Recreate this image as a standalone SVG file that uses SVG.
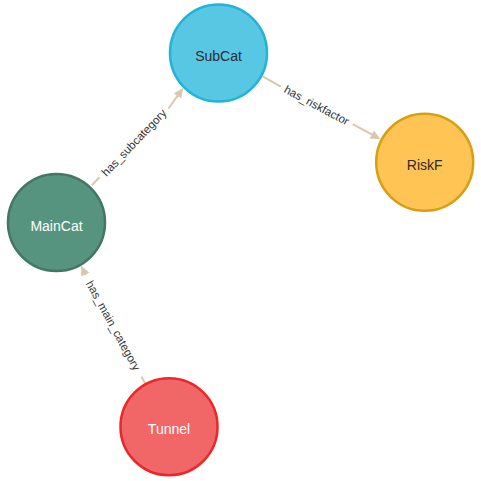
<svg xmlns="http://www.w3.org/2000/svg" width="481" height="481" viewBox="0 0 481 481">
<defs>
<style>
.node circle{stroke-width:2.5}
.node text{font-family:"Liberation Sans",Arial,sans-serif;font-size:14px;text-anchor:middle}
.dark{fill:#2A2C34}
.light{fill:#FFFFFF}
.edge line{stroke:#D9C8AE;stroke-width:2;fill:none}
.elabel{font-family:"Liberation Sans",Arial,sans-serif;font-size:11.5px;fill:#333333;text-anchor:middle}
</style>
<marker id="arrow" viewBox="0 -5 10 10" refX="1" refY="0" markerWidth="10" markerHeight="10" markerUnits="userSpaceOnUse" orient="auto">
<path d="M0,-4.5 L10,0 L0,4.5 z" fill="#D9C8AE"/>
</marker>
</defs>
<rect width="481" height="481" fill="#FFFFFF"/>
<g id="connectors">
<g class="edge" id="e-has_subcategory">
<line x1="91.8" y1="185.2" x2="99.5" y2="177.2"/>
<line x1="168.5" y1="108.5" x2="178.0" y2="95.2" marker-end="url(#arrow)"/>
<text class="elabel" transform="translate(134,142.5) rotate(-46.2)" dy="0.35em">has_subcategory</text>
</g>
<g class="edge" id="e-has_riskfactor">
<line x1="262.7" y1="76.4" x2="280.7" y2="86.7"/>
<line x1="352.7" y1="124.2" x2="372.6" y2="134.9" marker-end="url(#arrow)"/>
<text class="elabel" transform="translate(316.7,105.3) rotate(27.9)" dy="0.35em">has_riskfactor</text>
</g>
<g class="edge" id="e-has_main_category">
<line x1="144.9" y1="382.9" x2="141.5" y2="376.5"/>
<line x1="85.5" y1="275" x2="84.9" y2="273.7" marker-end="url(#arrow)"/>
<text class="elabel" transform="translate(113.3,325.5) rotate(61.2)" dy="0.35em">has_main_category</text>
</g>
</g>
<g class="node" id="SubCat">
<circle cx="218.5" cy="53" r="48.5" fill="#57C7E3" stroke="#23B3D7"/>
<text class="dark" x="218.5" y="60.7">SubCat</text>
</g>
<g class="node" id="RiskF">
<circle cx="424.7" cy="162.3" r="48.5" fill="#FFC454" stroke="#D7A013"/>
<text class="dark" x="424.7" y="170">RiskF</text>
</g>
<g class="node" id="MainCat">
<circle cx="56.5" cy="222.5" r="48.5" fill="#569480" stroke="#447666"/>
<text class="light" x="56.5" y="230.5">MainCat</text>
</g>
<g class="node" id="Tunnel">
<circle cx="169" cy="426.7" r="48.5" fill="#F16667" stroke="#EB2728"/>
<text class="light" x="169" y="434">Tunnel</text>
</g>
</svg>
